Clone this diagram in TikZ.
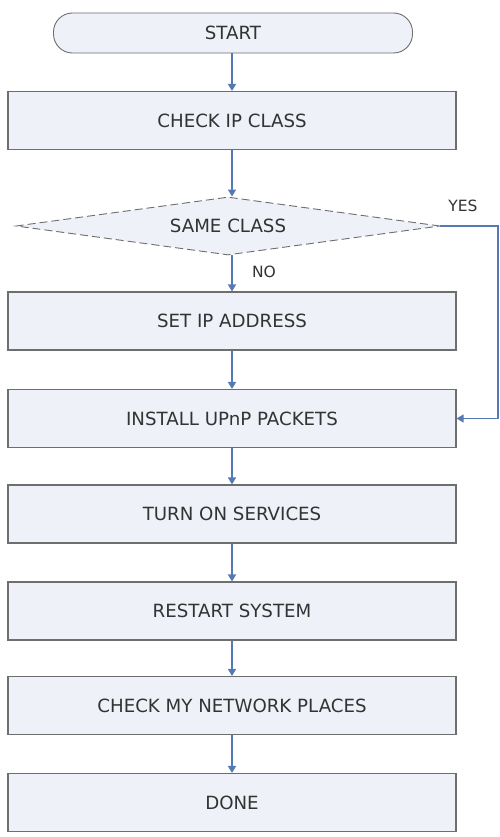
\documentclass[tikz,border=0pt]{standalone}
\usepackage{fontspec}
\setmainfont{DejaVu Sans}
\usetikzlibrary{shapes.geometric,arrows.meta}
\definecolor{boxfill}{HTML}{EEF1F8}
\definecolor{boxline}{HTML}{6E6E6E}
\definecolor{arrowblue}{HTML}{5479B5}
\definecolor{txt}{HTML}{333333}
\tikzset{
  stepbox/.style={draw=boxline, line width=1.1pt, fill=boxfill, minimum width=448pt, minimum height=58pt, inner sep=0pt, font=\fontsize{18.2}{20}\selectfont, text=txt},
  termbox/.style={draw=boxline, line width=0.9pt, fill=boxfill, rounded corners=19pt, minimum width=359pt, minimum height=40pt, inner sep=0pt, font=\fontsize{18.2}{20}\selectfont, text=txt},
  decbox/.style={diamond, aspect=7.3, draw=boxline, line width=0.9pt, dash pattern=on 8pt off 4pt, fill=boxfill, minimum width=424pt, minimum height=58pt, inner sep=0pt, font=\fontsize{18.2}{20}\selectfont, text=txt},
  flow/.style={draw=arrowblue, line width=1.5pt, -{Triangle[length=7pt,width=8pt]}},
  lbl/.style={font=\fontsize{15.5}{17}\selectfont, text=txt, inner sep=0pt}
}
\begin{document}
\begin{tikzpicture}[x=1pt,y=-1pt]
\useasboundingbox[fill=white] (0,0) rectangle (500,837);
\node[termbox] (start) at (233,33) {START};
\node[stepbox] (check) at (232,120.5) {CHECK IP CLASS};
\node[decbox] (same) at (228,226) {SAME CLASS};
\node[stepbox] (setip) at (232,321) {SET IP ADDRESS};
\node[stepbox] (install) at (232,418.5) {INSTALL UPnP PACKETS};
\node[stepbox] (turn) at (232,514) {TURN ON SERVICES};
\node[stepbox] (restart) at (232,611) {RESTART SYSTEM};
\node[stepbox] (net) at (232,705.5) {CHECK MY NETWORK PLACES};
\node[stepbox] (done) at (232,802.5) {DONE};
\coordinate (yesc) at (498,226);
\node[lbl] (yes) at (463,206) {YES};
\node[lbl] (no) at (264,272) {NO};
\draw[flow] (start.south -| check.north) -- (check.north);
\draw[flow] (check.south) -- (check.south |- same.north);
\draw[flow] (check.south |- same.south) -- (setip.north);
\draw[flow] (setip.south) -- (install.north);
\draw[flow] (install.south) -- (turn.north);
\draw[flow] (turn.south) -- (restart.north);
\draw[flow] (restart.south) -- (net.north);
\draw[flow] (net.south) -- (done.north);
\draw[flow, line width=1.2pt] (same.east) -- (yesc) |- (install.east);
\end{tikzpicture}
\end{document}
